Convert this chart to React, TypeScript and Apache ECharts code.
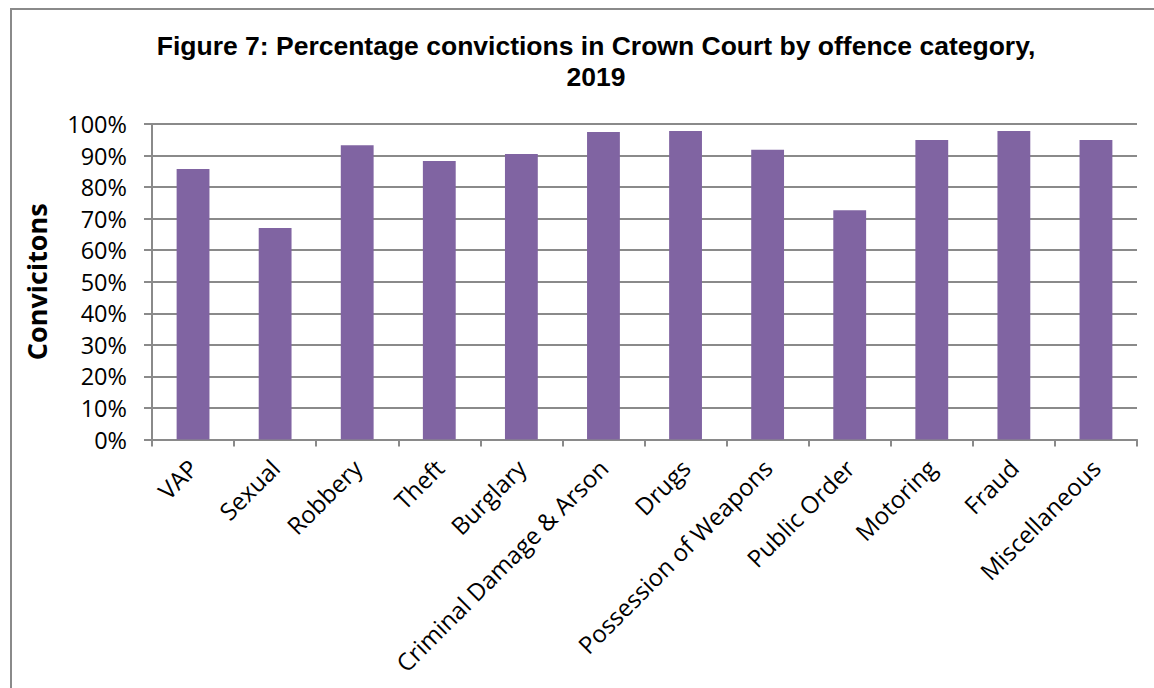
import React, { useEffect, useRef } from "react";
import * as echarts from "echarts";

const categories = [
  "VAP",
  "Sexual",
  "Robbery",
  "Theft",
  "Burglary",
  "Criminal Damage & Arson",
  "Drugs",
  "Possession of Weapons",
  "Public Order",
  "Motoring",
  "Fraud",
  "Miscellaneous",
];
const convictionPct = [85.7, 67.0, 93.3, 88.3, 90.5, 97.5, 97.8, 91.8, 72.7, 94.9, 97.8, 94.9];
const titleText = "Figure 7: Percentage convictions in Crown Court by offence category,\n2019";
const yAxisTitle = "Convicitons";

export default function App() {
  const ref = useRef<HTMLDivElement>(null);
  useEffect(() => {
    if (!ref.current) return;
    const chart = echarts.init(ref.current, null, { renderer: "svg" });
    const labelFont = "'Open Sans', 'Noto Sans', sans-serif";
    chart.setOption({
      animation: false,
      backgroundColor: "#ffffff",
      graphic: [
        {
          type: "rect",
          shape: { x: 11, y: 9, width: 1200, height: 720 },
          style: { fill: "none", stroke: "#8a8a8a", lineWidth: 2 },
          silent: true,
        },
        {
          type: "text",
          x: 596,
          y: 30,
          style: {
            text: titleText,
            fontFamily: "'Liberation Sans', Arial, sans-serif",
            fontWeight: "bold",
            fontSize: 26.5,
            lineHeight: 31,
            fill: "#000",
            align: "center",
            verticalAlign: "top",
          },
        },
      ],
      grid: { left: 152, top: 124, right: 17, bottom: 248.5, containLabel: false },
      xAxis: {
        type: "category",
        data: categories,
        boundaryGap: true,
        axisLine: { show: true, lineStyle: { color: "#8a8a8a", width: 2 } },
        axisTick: { show: true, length: 7, inside: false, alignWithLabel: false, lineStyle: { color: "#8a8a8a", width: 2 } },
        axisLabel: {
          interval: 0,
          rotate: 45,
          margin: 24,
          fontFamily: labelFont,
          fontSize: 24,
          color: "#000",
        },
      },
      yAxis: {
        type: "value",
        min: 0,
        max: 100,
        interval: 10,
        name: yAxisTitle,
        nameLocation: "middle",
        nameGap: 102,
        nameTextStyle: {
          fontFamily: labelFont,
          fontWeight: "bold",
          fontSize: 27,
          color: "#000",
        },
        axisLine: { show: true, lineStyle: { color: "#8a8a8a", width: 2 } },
        axisTick: { show: true, length: 8, inside: false, lineStyle: { color: "#8a8a8a", width: 2 } },
        splitLine: { show: true, lineStyle: { color: "#8a8a8a", width: 2 } },
        axisLabel: {
          formatter: "{value}%",
          margin: 25,
          fontFamily: labelFont,
          fontSize: 23.5,
          color: "#000",
        },
      },
      series: [
        {
          type: "bar",
          data: convictionPct,
          barWidth: "40%",
          itemStyle: { color: "#8064A2" },
        },
      ],
    });
    return () => chart.dispose();
  }, []);
  return (
    <div
      ref={ref}
      style={{ position: "absolute", left: 0, top: 0, width: 1154, height: 688 }}
    />
  );
}
